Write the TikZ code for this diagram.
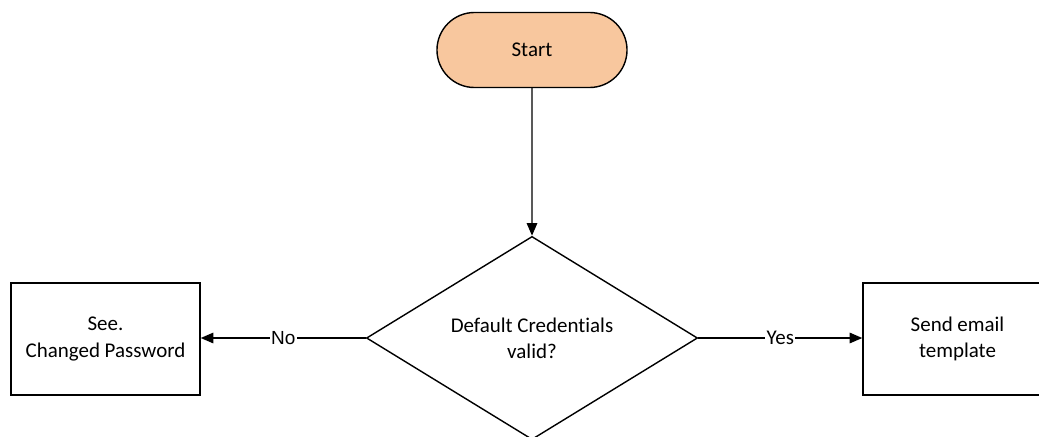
\documentclass[tikz,border=0pt]{standalone}
\usepackage{fontspec}
\setmainfont{Carlito}[Ligatures=NoCommon]
\newfontfamily\labelfont{Liberation Sans}
\usetikzlibrary{arrows.meta,shapes.geometric,shapes.misc}

\definecolor{startfill}{RGB}{248,199,158}

\begin{document}
\begin{tikzpicture}[x=0.025cm, y=-0.025cm,
    every node/.style={font=\fontsize{14.9}{18.5}\selectfont, align=center},
    flow/.style={line width=1pt, -{Triangle[length=9pt,width=7.5pt]}},
    terminal/.style={draw, line width=1pt, fill=startfill, rounded rectangle,
      minimum width=4.75cm, minimum height=1.875cm, inner sep=0pt},
    decision/.style={draw, line width=1pt, diamond, inner sep=0pt,
      minimum width=8.275cm, minimum height=4.95cm},
    process/.style={draw, line width=1pt, rectangle, inner sep=0pt,
      minimum width=4.725cm, minimum height=2.8cm},
    answer/.style={fill=white, inner sep=1pt, font=\labelfont\fontsize{13.5}{16}\selectfont}]
  \useasboundingbox (0,0) rectangle (1039,436);

  \node[terminal] (start)  at (532,50)    {Start};
  \node[decision] (valid)  at (532,338)   {Default Credentials\\valid?};
  \node[process]  (see)    at (105.5,339) {See.\\Changed Password};
  \node[process]  (send)   at (957.5,339) {Send email\\template};

  \draw[flow] (start) -- (valid);
  \draw[flow] (valid.west) -- (see.east |- valid.west)
    node[answer, midway] {No};
  \draw[flow] (valid.east) -- (send.west |- valid.east)
    node[answer, midway, font=\fontsize{14.9}{18}\selectfont] {Yes};
\end{tikzpicture}
\end{document}
